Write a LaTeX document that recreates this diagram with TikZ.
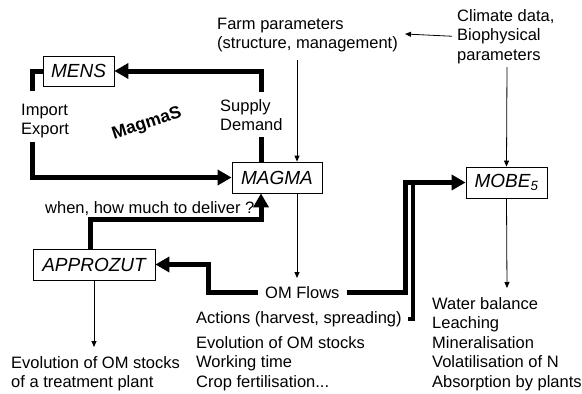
\documentclass[tikz,border=0pt]{standalone}
\usepackage{fontspec}
\setmainfont{Liberation Sans}
\usepackage{tikz}
\usetikzlibrary{arrows.meta}
\tikzset{
  model/.style={draw, line width=0.8, inner sep=0, font=\fontsize{19}{21}\selectfont\itshape},
  note/.style={inner sep=0, align=left, anchor=base west, font=\fontsize{16.5}{19.5}\selectfont},
  flow/.style={line width=5},
  flowarrow/.style={line width=5, -{Triangle[length=14pt, width=15pt]}},
  feed/.style={line width=0.8, -{Triangle[length=6pt, width=5pt]}},
}

\begin{document}
\begin{tikzpicture}[x=1pt, y=-1pt]
  \useasboundingbox (0, 0) rectangle (582, 394);

  % models
  \node[model, minimum width=71, minimum height=30] (mens) at (78.5, 71) {MENS};
  \node[model, minimum width=90, minimum height=31] (magma) at (277, 177.5) {MAGMA};
  \node[model, minimum width=81, minimum height=31] (mobe) at (506.5, 182.5) {MOBE\textsubscript{5}};
  \node[model, minimum width=122, minimum height=31] (approzut) at (94, 264.5) {APPROZUT};

  % inputs (base = last line)
  \node[note] (farm) at (217, 48.5) {Farm parameters\\(structure, management)};
  \node[note] (climate) at (457, 60) {Climate data,\\Biophysical\\parameters};

  % exchanges
  \node[note] (supply) at (220, 130.5) {Supply\\Demand};
  \node[note] (import) at (21, 134.5) {Import\\Export};
  \node[rotate=18, inner sep=0, font=\fontsize{17.5}{20}\selectfont\bfseries] (magmas) at (147, 124) {MagmaS};
  \node[note] (deliver) at (45, 213) {when, how much to deliver ?};

  % outputs
  \node[note] (flows) at (265, 298) {OM Flows};
  \node[note] (actions) at (196, 323.5) {Actions (harvest, spreading)};
  \node[note] (stocks) at (196, 387) {Evolution of OM stocks\\Working time\\Crop fertilisation...};
  \node[note] (plant) at (11, 387.5) {Evolution of OM stocks\\of a treatment plant};
  \node[note] (balance) at (432, 387) {Water balance\\Leaching\\Mineralisation\\Volatilisation of N\\Absorption by plants};

  % bends
  \coordinate (supplytop) at (261, 92);
  \coordinate (supplybot) at (261, 137);
  \coordinate (importtop) at (32, 91);
  \coordinate (importbot) at (32, 142);
  \coordinate (deliverbend) at (90, 219);
  \coordinate (flowbend) at (208, 264.5);
  \coordinate (mobebend) at (405, 182.5);
  \coordinate (actionsbend) at (413, 185);
  \coordinate (farmdrop) at (297, 60);
  \coordinate (farmtip) at (405, 34);
  \coordinate (climatedrop) at (507, 67);
  \coordinate (flowstip) at (297, 278);
  \coordinate (balancetip) at (507, 288);
  \coordinate (planttip) at (94, 347);

  \draw[flow] (magma.north -| supplybot) -- (supplybot);
  \draw[flowarrow] (supplytop) |- (mens.east);
  \draw[flow] (mens.west) -| (importtop);
  \draw[flowarrow] (importbot) |- (magma.west);
  \draw[flowarrow] (approzut.north -| deliverbend) -- (deliverbend) -| (magma.south -| supplybot);
  \draw[flowarrow] ([xshift=-7pt]flows.west) -| (flowbend) -- (approzut.east);
  \draw[flowarrow] ([xshift=7pt]flows.east) -| (mobebend) -- (mobe.west);
  \draw[flow, line width=4] ([xshift=6pt]actions.east) -| (actionsbend);

  \draw[feed] (farmdrop) -- (magma.north -| farmdrop);
  \draw[feed] ([xshift=-5pt]climate.west) -- (farmtip);
  \draw[feed] (climatedrop) -- (mobe.north);
  \draw[feed] (magma.south -| farmdrop) -- (flowstip);
  \draw[feed] (mobe.south) -- (balancetip);
  \draw[feed] (approzut.south) -- (planttip);
\end{tikzpicture}
\end{document}
